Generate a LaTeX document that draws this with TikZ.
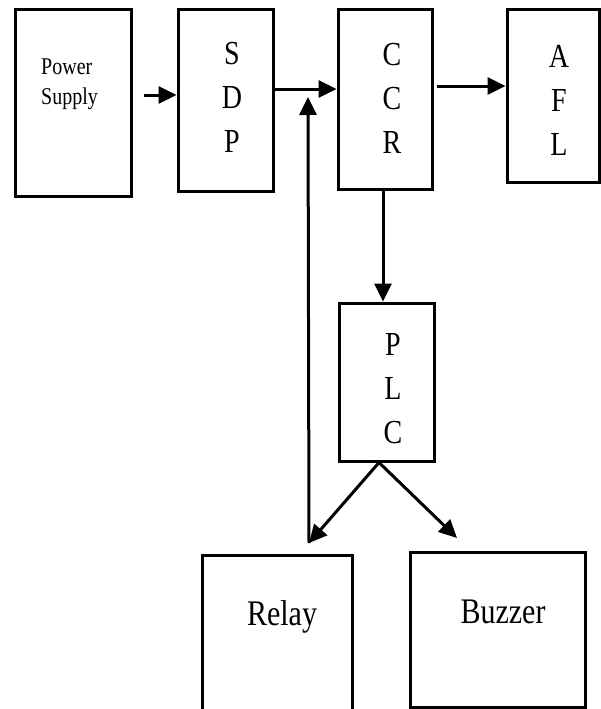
\documentclass[tikz,border=0pt]{standalone}
\usepackage{fontspec}
\setmainfont{Liberation Serif}
\usetikzlibrary{arrows.meta}
\newcommand{\tl}[1]{\scalebox{1}[1.2]{#1}}

\begin{document}
\begin{tikzpicture}[x=1pt,y=-1pt,
  blk/.style={draw, line width=3pt, rectangle, inner sep=0pt},
  arr/.style={line width=3pt, -{Triangle[length=18pt,width=17pt]}},
  stack/.style={font=\fontsize{28}{44}\selectfont, align=center, inner sep=0pt}]
\useasboundingbox (0,0) rectangle (601,709);
\node[blk, minimum width=116pt, minimum height=186pt] (ps) at (73,103) {};
\node[blk, minimum width=95pt, minimum height=181pt] (sdp) at (225.5,100.5) {};
\node[blk, minimum width=94pt, minimum height=179pt] (ccr) at (385,99.5) {};
\node[blk, minimum width=92pt, minimum height=172pt] (afl) at (553,96) {};
\node[blk, minimum width=95pt, minimum height=158pt] (plc) at (386.5,382) {};
\node[blk, minimum width=150pt, minimum height=157pt] (relay) at (277,633.5) {};
\node[blk, minimum width=175pt, minimum height=155pt] (buzzer) at (497.5,629.5) {};
\node[font=\fontsize{20}{30}\selectfont, align=left, anchor=west, inner sep=0pt] (pstxt) at (41,84) {\tl{Power}\\\tl{Supply}};
\node[stack] (sdptxt) at (232,97) {\tl{S}\\\tl{D}\\\tl{P}};
\node[stack] (ccrtxt) at (392,98) {\tl{C}\\\tl{C}\\\tl{R}};
\node[stack] (afltxt) at (559,100) {\tl{A}\\\tl{F}\\\tl{L}};
\node[stack] (plctxt) at (393,389) {\tl{P}\\\tl{L}\\\tl{C}};
\node[font=\fontsize{30}{36}\selectfont, inner sep=0pt] (relaytxt) at (282,617) {\tl{Relay}};
\node[font=\fontsize{30}{36}\selectfont, inner sep=0pt] (buzzertxt) at (503,612) {\tl{Buzzer}};
\coordinate (fb) at (309,543);
\coordinate (fbtop) at (308,97);
\coordinate (bz) at (457,538);
\draw[arr, shorten <=11pt] ([yshift=8pt]ps.east) -- ([yshift=5.5pt]sdp.west);
\draw[arr] ([yshift=11.5pt]sdp.east) -- ([yshift=10.5pt]ccr.west);
\draw[arr, shorten <=3pt] ([yshift=13.5pt]ccr.east) -- ([yshift=10pt]afl.west);
\draw[arr] ([xshift=-2pt]ccr.south) -- ([xshift=-3.5pt]plc.north);
\draw[arr] ([xshift=-7.5pt]plc.south) -- (fb);
\draw[arr] ([xshift=-7.5pt]plc.south) -- (bz);
\draw[arr] (fb) -- (fbtop);
\end{tikzpicture}
\end{document}
